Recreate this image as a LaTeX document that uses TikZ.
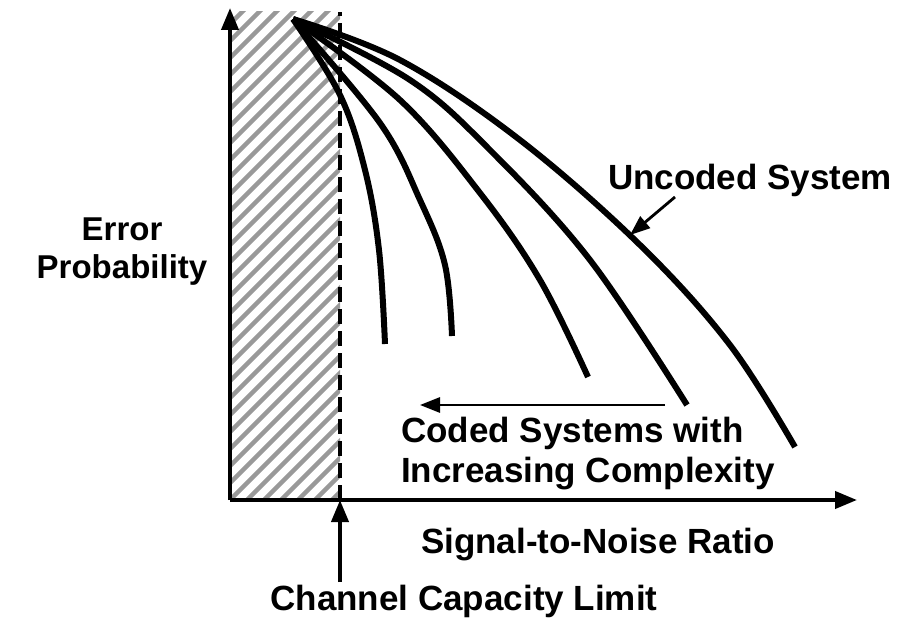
\documentclass[tikz,border=0pt]{standalone}
\usepackage{fontspec}
\setmainfont{Liberation Sans}
\usepackage{tikz}
\usetikzlibrary{arrows.meta}
\usetikzlibrary{calc}

\begin{document}
\begin{tikzpicture}[x=1pt, y=-1pt,
        label_style/.style={font=\fontsize{35}{40}\selectfont\bfseries, inner sep=0pt, align=center},
        axis_style/.style={draw=black, line width=4pt, -{Triangle[length=22pt,width=17pt]}},
        curve_style/.style={draw=black, line width=6pt, line join=round},
        pointer_style/.style={draw=black, line width=2.8pt, -{Triangle[length=20pt,width=15pt]}},
        hatch_style/.style={draw=black!40, line width=4.5pt}]

        \useasboundingbox (0,0) rectangle (905,626);

        \coordinate (origin) at (230,500);
        \coordinate (ytip) at (230,8);
        \coordinate (xtip) at (857,500);
        \coordinate (limit) at (340,500);
        \coordinate (start) at (293,19);

        % shaded region below the capacity limit
        \begin{scope}
            \clip (230,12) rectangle (340,500);
            \foreach \x in {-280,-263,...,360}
                \draw [hatch_style] (\x,500) -- (\x+500,0);
        \end{scope}
        \draw [line width=4pt, dash pattern=on 15pt off 7pt] (340,500) -- (340,12);

        % axes
        \draw [axis_style] (origin) -- (ytip);
        \draw [axis_style] (origin) -- (xtip);

        % error curves
        \draw [curve_style] plot[smooth, tension=0.6] coordinates {(start) (340,95) (365,170) (379,250) (385,344)};
        \draw [curve_style] plot[smooth, tension=0.6] coordinates {(start) (380,123) (420,200) (445,265) (452,336)};
        \draw [curve_style] plot[smooth, tension=0.6] coordinates {(start) (400,100) (480,193) (540,280) (588,377)};
        \draw [curve_style] plot[smooth, tension=0.6] coordinates {(start) (410,80) (490,150) (590,260) (687,405)};
        \draw [curve_style] plot[smooth, tension=0.6] coordinates {(start) (400,60) (520,140) (640,245) (730,345) (795,447)};
        \coordinate (uncoded_pt) at (630,235);

        % labels
        \node [label_style, font=\fontsize{33}{38}\selectfont\bfseries] (ylabel) at (122,252) {Error\\Probability};
        \node [label_style] (xlabel) at (598,545) {Signal-to-Noise Ratio};
        \node [label_style] (uncoded) at (750,180) {Uncoded System};
        \node [label_style, align=left, anchor=west] (coded) at (401,454) {Coded Systems with\\Increasing Complexity};
        \node [label_style] (capacity) at (464,601) {Channel Capacity Limit};

        % pointers
        \draw [pointer_style] (675,197) -- (uncoded_pt);
        \draw [pointer_style] (665,405) -- (420,405);
        \draw [axis_style] (340,582) -- (limit);

\end{tikzpicture}
\end{document}
